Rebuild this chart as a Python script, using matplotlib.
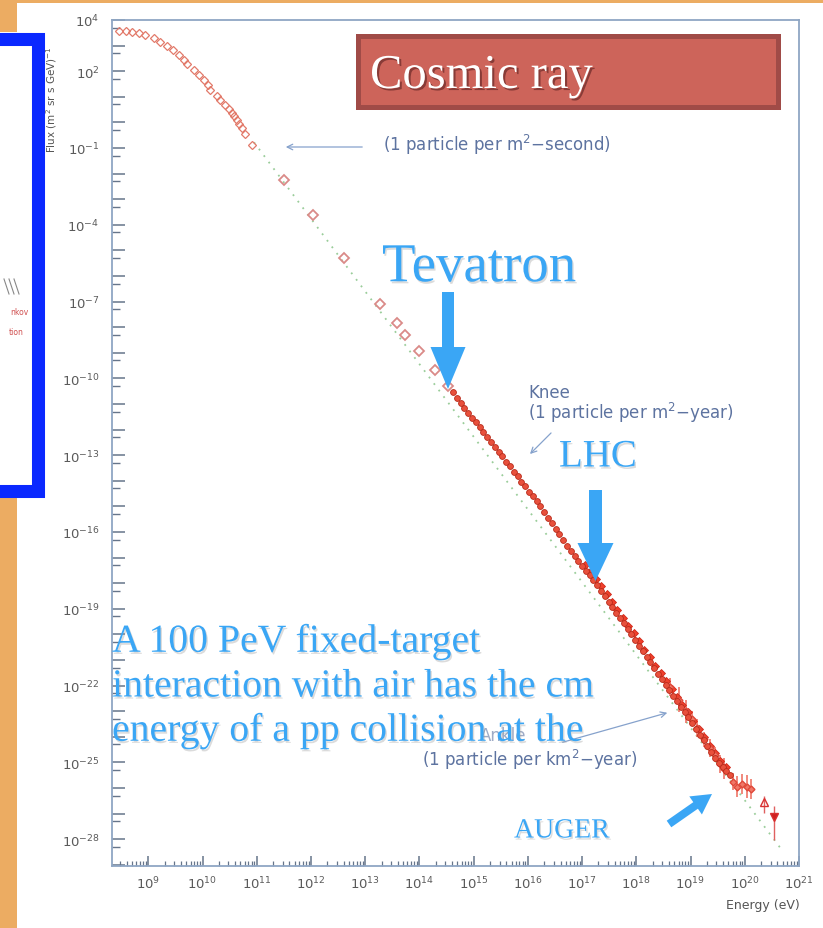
import matplotlib
import matplotlib.pyplot as plt
import matplotlib.patheffects as pe
from matplotlib.patches import FancyArrow, Rectangle
from matplotlib.ticker import FixedLocator, LogLocator, NullFormatter

matplotlib.use("Agg")

W, H = 823, 929

# open diamonds at low energy (log10 E [eV], log10 flux)
LOW_LOG_E = [8.45, 8.58, 8.70, 8.82, 8.94, 9.10, 9.22, 9.35, 9.45, 9.56, 9.65, 9.71, 9.84, 9.93,
             10.02, 10.10, 10.14, 10.27, 10.33, 10.42, 10.48, 10.54, 10.58, 10.63, 10.67, 10.72,
             10.79, 10.91]
LOW_LOG_F = [3.58, 3.58, 3.54, 3.49, 3.41, 3.28, 3.15, 3.00, 2.82, 2.63, 2.42, 2.28, 2.06, 1.86,
             1.67, 1.45, 1.28, 1.02, 0.86, 0.68, 0.52, 0.37, 0.25, 0.10, -0.06, -0.22,
             -0.45, -0.88]

# sparse points between 10^11 and the knee
MID_LOG_E = [11.50, 12.04, 12.60, 13.27, 13.58, 13.74, 14.00, 14.28, 14.52]
MID_LOG_F = [-2.24, -3.62, -5.28, -7.09, -7.85, -8.30, -8.92, -9.67, -10.31]

# dense air-shower data
DENSE_LOG_E = [14.62, 14.69, 14.76, 14.83, 14.90, 14.97, 15.04, 15.11, 15.18, 15.25, 15.32, 15.39,
               15.46, 15.53, 15.60, 15.67, 15.74, 15.81, 15.88, 15.95, 16.02, 16.09, 16.16, 16.23,
               16.30, 16.37, 16.44, 16.51, 16.58, 16.65, 16.72, 16.79, 16.86, 16.93, 17.00, 17.07,
               17.14, 17.21, 17.28, 17.35, 17.42, 17.49, 17.56, 17.63, 17.70, 17.77, 17.84, 17.91,
               17.98, 18.05, 18.12, 18.19, 18.26, 18.33, 18.40, 18.47, 18.54, 18.61, 18.68, 18.75,
               18.82, 18.89, 18.96, 19.03, 19.10, 19.17, 19.24, 19.31, 19.38, 19.45, 19.52, 19.59,
               19.66, 19.72]
DENSE_LOG_F = [-10.55, -10.76, -10.96, -11.15, -11.34, -11.53, -11.72, -11.91, -12.10, -12.29,
               -12.48, -12.67, -12.86, -13.05, -13.25, -13.44, -13.64, -13.83, -14.03, -14.22,
               -14.42, -14.61, -14.81, -15.00, -15.21, -15.44, -15.66, -15.88, -16.09, -16.31,
               -16.53, -16.75, -16.94, -17.13, -17.32, -17.51, -17.70, -17.89, -18.09, -18.30,
               -18.51, -18.72, -18.93, -19.15, -19.36, -19.57, -19.78, -20.00, -20.22, -20.44,
               -20.66, -20.88, -21.10, -21.32, -21.54, -21.76, -21.97, -22.18, -22.39, -22.61,
               -22.82, -23.03, -23.24, -23.47, -23.69, -23.92, -24.14, -24.37, -24.60, -24.82,
               -25.02, -25.19, -25.35, -25.48]

# second experiment overlapping the dense band above 10^17 eV
BAND_LOG_E = [17.05, 17.15, 17.25, 17.35, 17.45, 17.55, 17.65, 17.75, 17.85, 17.95, 18.05, 18.15,
              18.25, 18.35, 18.45, 18.55, 18.65, 18.75, 18.85, 18.95, 19.05, 19.15, 19.25, 19.35,
              19.45, 19.55, 19.65]
BAND_LOG_F = [-17.30, -17.58, -17.82, -18.12, -18.44, -18.75, -19.05, -19.35, -19.66, -19.96,
              -20.27, -20.60, -20.90, -21.23, -21.52, -21.84, -22.12, -22.45, -22.75, -23.05,
              -23.38, -23.70, -24.02, -24.35, -24.62, -24.93, -25.20]

# highest-energy points with error bars
HIGH_LOG_E = [18.62, 18.78, 18.92, 19.02, 19.12, 19.25, 19.36, 19.45, 19.55, 19.62, 19.78, 19.86,
              19.95, 20.05, 20.12]
HIGH_LOG_F = [-22.05, -22.55, -23.00, -23.30, -23.65, -24.10, -24.45, -24.70, -25.05, -25.25,
              -25.75, -25.95, -25.85, -25.95, -26.05]
HIGH_ERR = [0.35, 0.50, 0.45, 0.30, 0.35, 0.30, 0.35, 0.30, 0.35, 0.40, 0.35, 0.40, 0.40, 0.45, 0.40]

TRI_UP = (20.35, -26.56, 0.26, 0.40)
TRI_DOWN = (20.54, -27.13, 0.43, 0.90)

# E^-2.84 guide line, read at its two ends
GUIDE_LOG_E = [10.95, 20.70]
GUIDE_LOG_F = [-0.78, -28.47]

Y_LABELED = [4, 2, -1, -4, -7, -10, -13, -16, -19, -22, -25, -28]
X_DECADES = list(range(9, 22))

ORANGE = "#ECAC62"
BLUE_TEXT = "#3AA6F5"
NOTE = "#5D73A0"
SERIF = ["Liberation Serif", "DejaVu Serif"]


def exp10(values):
    return [10.0 ** v for v in values]


def log_err(log_f, err_dn, err_up):
    lower = [10 ** f - 10 ** (f - e) for f, e in zip(log_f, err_dn)]
    upper = [10 ** (f + e) - 10 ** f for f, e in zip(log_f, err_up)]
    return [lower, upper]


def main() -> None:
    fig = plt.figure(figsize=(W / 100, H / 100), dpi=100)
    fig.patch.set_facecolor("white")

    # slide background pieces, pixel coordinates
    bg = fig.add_axes([0, 0, 1, 1], zorder=0)
    bg.set_xlim(0, W)
    bg.set_ylim(H, 0)
    bg.axis("off")
    bg.add_patch(Rectangle((0, 0), W, 4, color=ORANGE, lw=0))
    bg.add_patch(Rectangle((0, 0), 17, 33, color=ORANGE, lw=0))
    bg.add_patch(Rectangle((0, 498), 17, H - 498, color=ORANGE, lw=0))
    bg.add_patch(Rectangle((-30, 39.5), 68.5, 452, fill=False, edgecolor="#0A28FF", lw=9.4))
    for x0 in (4, 9, 14):
        bg.plot([x0, x0 + 5], [280, 295], color="#888888", lw=0.8)
    bg.text(29, 312, "nkov", color="#D05050", fontsize=5.5, ha="right", va="center")
    bg.text(24, 332, "tion", color="#D05050", fontsize=5.5, ha="right", va="center")

    ax = fig.add_axes([112 / W, 1 - 867 / H, 687 / W, 846 / H], zorder=2)
    ax.set_facecolor("white")
    ax.set_xscale("log")
    ax.set_yscale("log")
    ax.set_xlim(10 ** 8.33, 10 ** 21.0)
    ax.set_ylim(10 ** -29.05, 10 ** 4.0)

    ax.plot(exp10(GUIDE_LOG_E), exp10(GUIDE_LOG_F), color="#9ACD9A", lw=1.3,
            linestyle=(0, (1, 3.5)), zorder=1)
    ax.plot(exp10(LOW_LOG_E), exp10(LOW_LOG_F), linestyle="none", marker="D", ms=4.2,
            mfc="none", mec="#E27A6A", mew=0.9, zorder=3)
    ax.plot(exp10(MID_LOG_E), exp10(MID_LOG_F), linestyle="none", marker="D", ms=5.2,
            mfc="none", mec="#DA8A88", mew=1.3, zorder=3)
    ax.errorbar(exp10(HIGH_LOG_E), exp10(HIGH_LOG_F), yerr=log_err(HIGH_LOG_F, HIGH_ERR, HIGH_ERR),
                fmt="D", ms=3.5, mfc="#F07868", mec="#E04838", ecolor="#EE6A5A", elinewidth=1.1,
                capsize=0, zorder=3)
    ax.plot(exp10(BAND_LOG_E), exp10(BAND_LOG_F), linestyle="none", marker="D", ms=4.0,
            mfc="#F0402C", mec="#D02818", mew=0.6, zorder=3)
    ax.plot(exp10(DENSE_LOG_E), exp10(DENSE_LOG_F), linestyle="none", marker="o", ms=4.2,
            mfc="#E8503C", mec="#B82A1A", mew=0.6, zorder=4)
    for (le, lf, up, dn), mk, face in ((TRI_UP, "^", "none"), (TRI_DOWN, "v", "#D02020")):
        ax.errorbar([10 ** le], [10 ** lf], yerr=log_err([lf], [dn], [up]),
                    fmt=mk, ms=5.5, mfc=face, mec="#D83030", ecolor="#E06060", elinewidth=1.0,
                    capsize=0, zorder=4)

    for side in ("left", "right", "top", "bottom"):
        ax.spines[side].set_color("#8FA6C4")
        ax.spines[side].set_linewidth(1.3)

    ax.yaxis.set_major_locator(FixedLocator(exp10(range(-29, 5))))
    ax.set_yticklabels([f"$10^{{{k}}}$" if k in Y_LABELED else "" for k in range(-29, 5)])
    ax.yaxis.set_minor_locator(LogLocator(base=10, subs=[5], numticks=60))
    ax.yaxis.set_minor_formatter(NullFormatter())
    ax.xaxis.set_major_locator(FixedLocator(exp10(X_DECADES)))
    ax.set_xticklabels([f"$10^{{{k}}}$" for k in X_DECADES])
    ax.xaxis.set_minor_locator(LogLocator(base=10, subs=range(2, 10), numticks=60))
    ax.xaxis.set_minor_formatter(NullFormatter())
    ax.tick_params(axis="both", which="both", direction="in", color="#66758A", labelcolor="#5A5A5A",
                   labelsize=9.5)
    ax.tick_params(axis="y", which="major", length=9, width=1.1, pad=9)
    ax.tick_params(axis="y", which="minor", length=6, width=1.0)
    ax.tick_params(axis="x", which="major", length=7, width=1.1, pad=6)
    ax.tick_params(axis="x", which="minor", length=3.5, width=0.9)

    fig.text(52 / W, 1 - 100 / H, "Flux (m$^2$ sr s GeV)$^{-1}$", rotation=90, ha="center",
             va="center", fontsize=7.5, color="#555555")
    fig.text(800 / W, 1 - 906 / H, "Energy (eV)", ha="right", va="center", fontsize=9,
             color="#555555")

    # overlay: slide annotations in pixel coordinates
    top = fig.add_axes([0, 0, 1, 1], zorder=5)
    top.set_xlim(0, W)
    top.set_ylim(H, 0)
    top.axis("off")
    top.patch.set_alpha(0)

    note_size = 12
    top.text(383, 145, "(1 particle per m$^2$$-$second)", fontsize=note_size, color=NOTE, va="center")
    top.annotate("", xy=(283, 148), xytext=(365, 148),
                 arrowprops=dict(arrowstyle="->", color="#86A2CC", lw=0.9))
    top.text(528, 393, "Knee", fontsize=note_size, color=NOTE, va="center")
    top.text(528, 413, "(1 particle per m$^2$$-$year)", fontsize=note_size, color=NOTE, va="center")
    top.annotate("", xy=(528, 457), xytext=(553, 432),
                 arrowprops=dict(arrowstyle="->", color="#86A2CC", lw=0.9))
    top.text(480, 736, "Ankle", fontsize=note_size, color=NOTE, va="center", alpha=0.6)
    top.text(422, 760, "(1 particle per km$^2$$-$year)", fontsize=note_size, color=NOTE, va="center")
    top.annotate("", xy=(670, 713), xytext=(560, 744),
                 arrowprops=dict(arrowstyle="->", color="#86A2CC", lw=0.9))

    top.add_patch(Rectangle((358.5, 36.5), 420, 71, facecolor="#CD645A", edgecolor="#A04B47", lw=3.6))
    shadow = [pe.SimplePatchShadow(offset=(1.5, -1.5), shadow_rgbFace="#5A2020", alpha=0.6), pe.Normal()]
    top.text(370, 77, "Cosmic ray", family=SERIF, fontsize=35, color="white", va="center",
             path_effects=shadow)

    glow = [pe.SimplePatchShadow(offset=(1, -1.5), shadow_rgbFace="#9A9A9A", alpha=0.35), pe.Normal()]
    top.text(382, 269, "Tevatron", family=SERIF, fontsize=39.5, color=BLUE_TEXT, va="center",
             path_effects=glow)
    top.text(559, 458, "LHC", family=SERIF, fontsize=28, color=BLUE_TEXT, va="center",
             path_effects=glow)
    top.text(514, 832, "AUGER", family=SERIF, fontsize=20, color=BLUE_TEXT, va="center",
             path_effects=glow)
    for y, line in ((643, "A 100 PeV fixed-target"), (688, "interaction with air has the cm"),
                    (732, "energy of a pp collision at the")):
        top.text(112, y, line, family=SERIF, fontsize=28.6, color=BLUE_TEXT, va="center",
                 path_effects=glow)

    top.add_patch(FancyArrow(448, 293, 0, 97, width=12, head_width=35, head_length=42,
                             length_includes_head=True, color=BLUE_TEXT, lw=0))
    top.add_patch(FancyArrow(595.5, 491, 0, 91, width=13, head_width=36, head_length=38,
                             length_includes_head=True, color=BLUE_TEXT, lw=0))
    top.add_patch(FancyArrow(669, 825, 43, -30, width=8, head_width=22, head_length=20,
                             length_includes_head=True, color=BLUE_TEXT, lw=0))

    fig.savefig("out.png", dpi=100, facecolor=fig.get_facecolor())
    plt.close(fig)


if __name__ == "__main__":
    main()
